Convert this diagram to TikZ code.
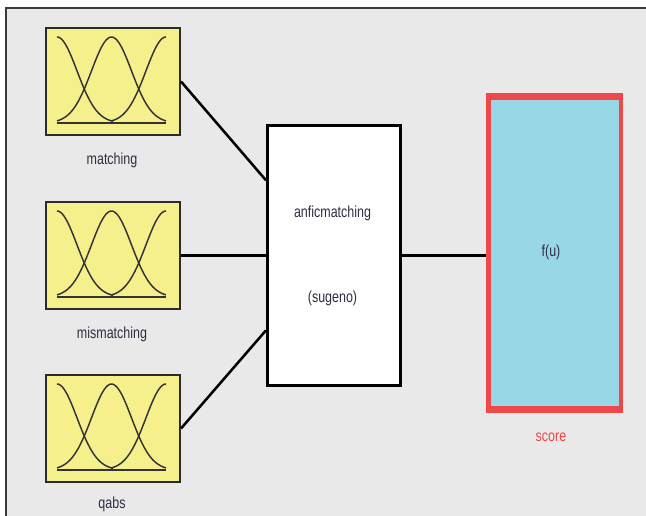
\documentclass[tikz,border=0pt]{standalone}
\usepackage{fontspec}
\usepackage{graphicx}
\setmainfont{Liberation Sans}
\definecolor{panel}{HTML}{E9E9E9}
\definecolor{frameline}{HTML}{3A3A3A}
\definecolor{mfyellow}{HTML}{F6F08C}
\definecolor{boxline}{HTML}{2B2B2B}
\definecolor{curve}{HTML}{333333}
\definecolor{labeltext}{HTML}{2E2E44}
\definecolor{scorered}{HTML}{EE4848}
\definecolor{outfill}{HTML}{98D8E6}
\newcommand{\narrow}[1]{\scalebox{0.78}[1]{#1}}
\tikzset{
  mfbox/.style={draw=boxline, fill=mfyellow, line width=1.5pt,
    minimum width=100.5pt, minimum height=80.25pt, inner sep=0pt, anchor=north west},
  rulebox/.style={draw=black, fill=white, line width=2pt,
    minimum width=99.75pt, minimum height=195pt, inner sep=0pt, anchor=north west},
  outbox/.style={fill=scorered, minimum width=102.75pt, minimum height=240pt,
    inner sep=0pt, anchor=north west},
  lbl/.style={font=\fontsize{12}{14}\selectfont, text=labeltext, inner sep=0pt},
  wire/.style={draw=black, line width=1.9pt},
  mf/.style={draw=curve, line width=1.1pt, smooth, samples=50}
}
% three gaussian membership functions inside a box whose top-left corner is #1
\newcommand{\mfcurves}[1]{%
  \begin{scope}[shift={#1}]
    \draw[mf] (12,96) -- (121,96);
    \draw[mf] plot[domain=12:68] (\x, {96-86*exp(-((\x-12)^2)/(2*20^2))});
    \draw[mf] plot[domain=12:121] (\x, {96-86*exp(-((\x-66.5)^2)/(2*20^2))});
    \draw[mf] plot[domain=66:121] (\x, {96-86*exp(-((\x-121)^2)/(2*20^2))});
  \end{scope}}
\begin{document}
\begin{tikzpicture}[x=0.75pt, y=-0.75pt]
  \useasboundingbox (0,0) rectangle (646,516);
  \fill[white] (0,0) rectangle (646,516);
  \fill[panel] (6,8) rectangle (646,516);
  \draw[frameline, line width=1.5pt] (6,516) -- (6,8) -- (646,8);

  % input membership-function blocks
  \node[mfbox] (in1) at (45,27) {};
  \node[mfbox] (in2) at (45,201) {};
  \node[mfbox] (in3) at (45,374) {};
  \mfcurves{(45,27)}
  \mfcurves{(45,201)}
  \mfcurves{(45,374)}
  \node[lbl] (l1) at (112,160) {\narrow{matching}};
  \node[lbl] (l2) at (112,334) {\narrow{mismatching}};
  \node[lbl] (l3) at (112,504) {\narrow{qabs}};

  % rule block
  \node[rulebox] (mid) at (266,124) {};
  \node[lbl] (t1) at (332.5,213) {\narrow{anficmatching}};
  \node[lbl] (t2) at (332.5,298) {\narrow{(sugeno)}};

  % output block
  \node[outbox] (out) at (486,93) {};
  \fill[outfill] ([xshift=3.75pt, yshift=-5.5pt]out.north west)
    rectangle ([xshift=-3.75pt, yshift=5.5pt]out.south east);
  \node[lbl] (fu) at (551,252) {\narrow{f(u)}};
  \node[lbl, text=scorered] (sc) at (551,437) {\narrow{score}};

  % connectors
  \draw[wire] (in1.east) -- ([yshift=56.25pt]mid.west);
  \draw[wire] (in2.east) -- (mid.west |- in2.east);
  \draw[wire] (in3.east) -- ([yshift=-56.25pt]mid.west);
  \draw[wire] (mid.east) -- (mid.east -| out.west);
\end{tikzpicture}
\end{document}
